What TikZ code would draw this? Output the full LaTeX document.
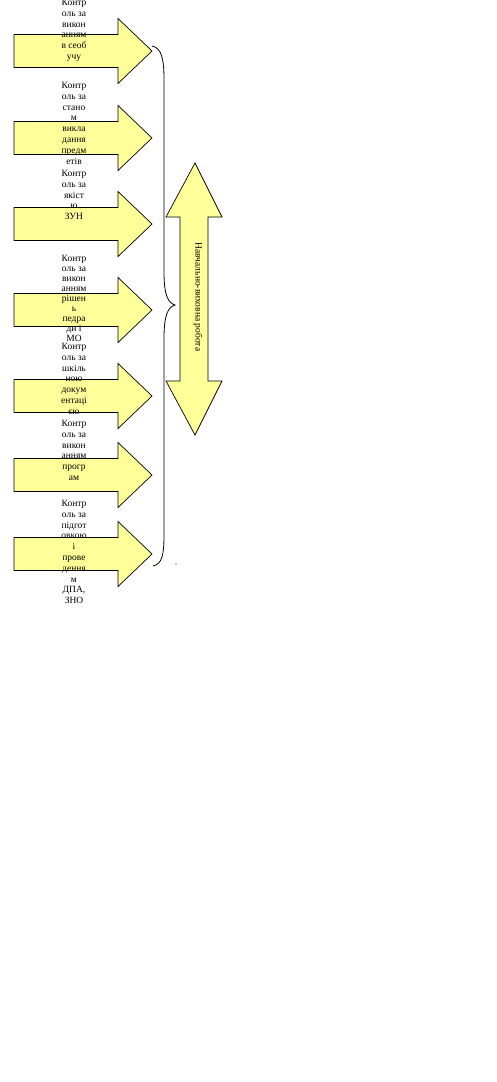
\documentclass[tikz,border=0pt]{standalone}
\usepackage{fontspec}
\setmainfont{Liberation Serif}
\begin{document}
\begin{tikzpicture}[x=1pt,y=1pt,
  shapebox/.style={draw=black,line width=0.7pt,fill=arrowfill,line join=miter},
  lbl/.style={anchor=north,inner sep=0pt,align=center,font=\fontsize{9.5}{10.8}\selectfont},
  lbltight/.style={anchor=north,inner sep=0pt,align=center,font=\fontsize{9.5}{10}\selectfont},
  vlbl/.style={inner sep=0pt,rotate=-90,font=\fontsize{9.5}{11}\selectfont},
  bracestyle/.style={draw=black,line width=0.8pt}]
\definecolor{arrowfill}{HTML}{FFFF99}
\useasboundingbox (0,0) rectangle (496,-1082);
\fill[white] (0,0) rectangle (496,-1082);
% left arrows
\foreach \c in {51,138,224,310,396,475,554}{
  \draw[shapebox] (14,-\c+16.5) -- (118,-\c+16.5) -- (118,-\c+32.5) -- (152,-\c)
    -- (118,-\c-32.5) -- (118,-\c-16.5) -- (14,-\c-16.5) -- cycle;
}
% texts
\node[lbl] (t1) at (74,1) {Контр\\оль за\\викон\\анням\\в сеоб\\учу};
\node[lbl] (t2) at (74,-82) {Контр\\оль за\\стано\\м\\викла\\дання\\предм\\етів};
\node[lbl] (t3) at (74,-170) {Контр\\оль за\\якіст\\ю\\ЗУН};
\node[lbltight] (t4) at (74,-255) {Контр\\оль за\\викон\\анням\\рішен\\ь\\педра\\ди і\\МО};
\node[lbl] (t5) at (74,-343) {Контр\\оль за\\шкіль\\ною\\докум\\ентаці\\єю};
\node[lbl] (t6) at (74,-420) {Контр\\оль за\\викон\\анням\\прогр\\ам};
\node[lbl] (t7) at (74,-500) {Контр\\оль за\\підгот\\овкою\\і\\прове\\дення\\м\\ДПА,\\ЗНО};
% brace
\draw[bracestyle] (152,-46) .. controls (162,-48) and (164,-60) .. (164,-80)
  -- (164,-272) .. controls (164,-295) and (168,-303) .. (175,-305)
  .. controls (168,-307) and (164,-315) .. (164,-338)
  -- (164,-535) .. controls (164,-555) and (162,-564) .. (153,-566);
\fill (176,-564) circle (0.6);
% double arrow
\draw[shapebox] (195,-163) -- (222,-217) -- (208,-217) -- (208,-381) -- (222,-381)
  -- (195,-435) -- (166,-381) -- (180,-381) -- (180,-217) -- (166,-217) -- cycle;
\node[vlbl] (dv) at (198,-297) {Навчально-виховна робота};
\end{tikzpicture}
\end{document}
